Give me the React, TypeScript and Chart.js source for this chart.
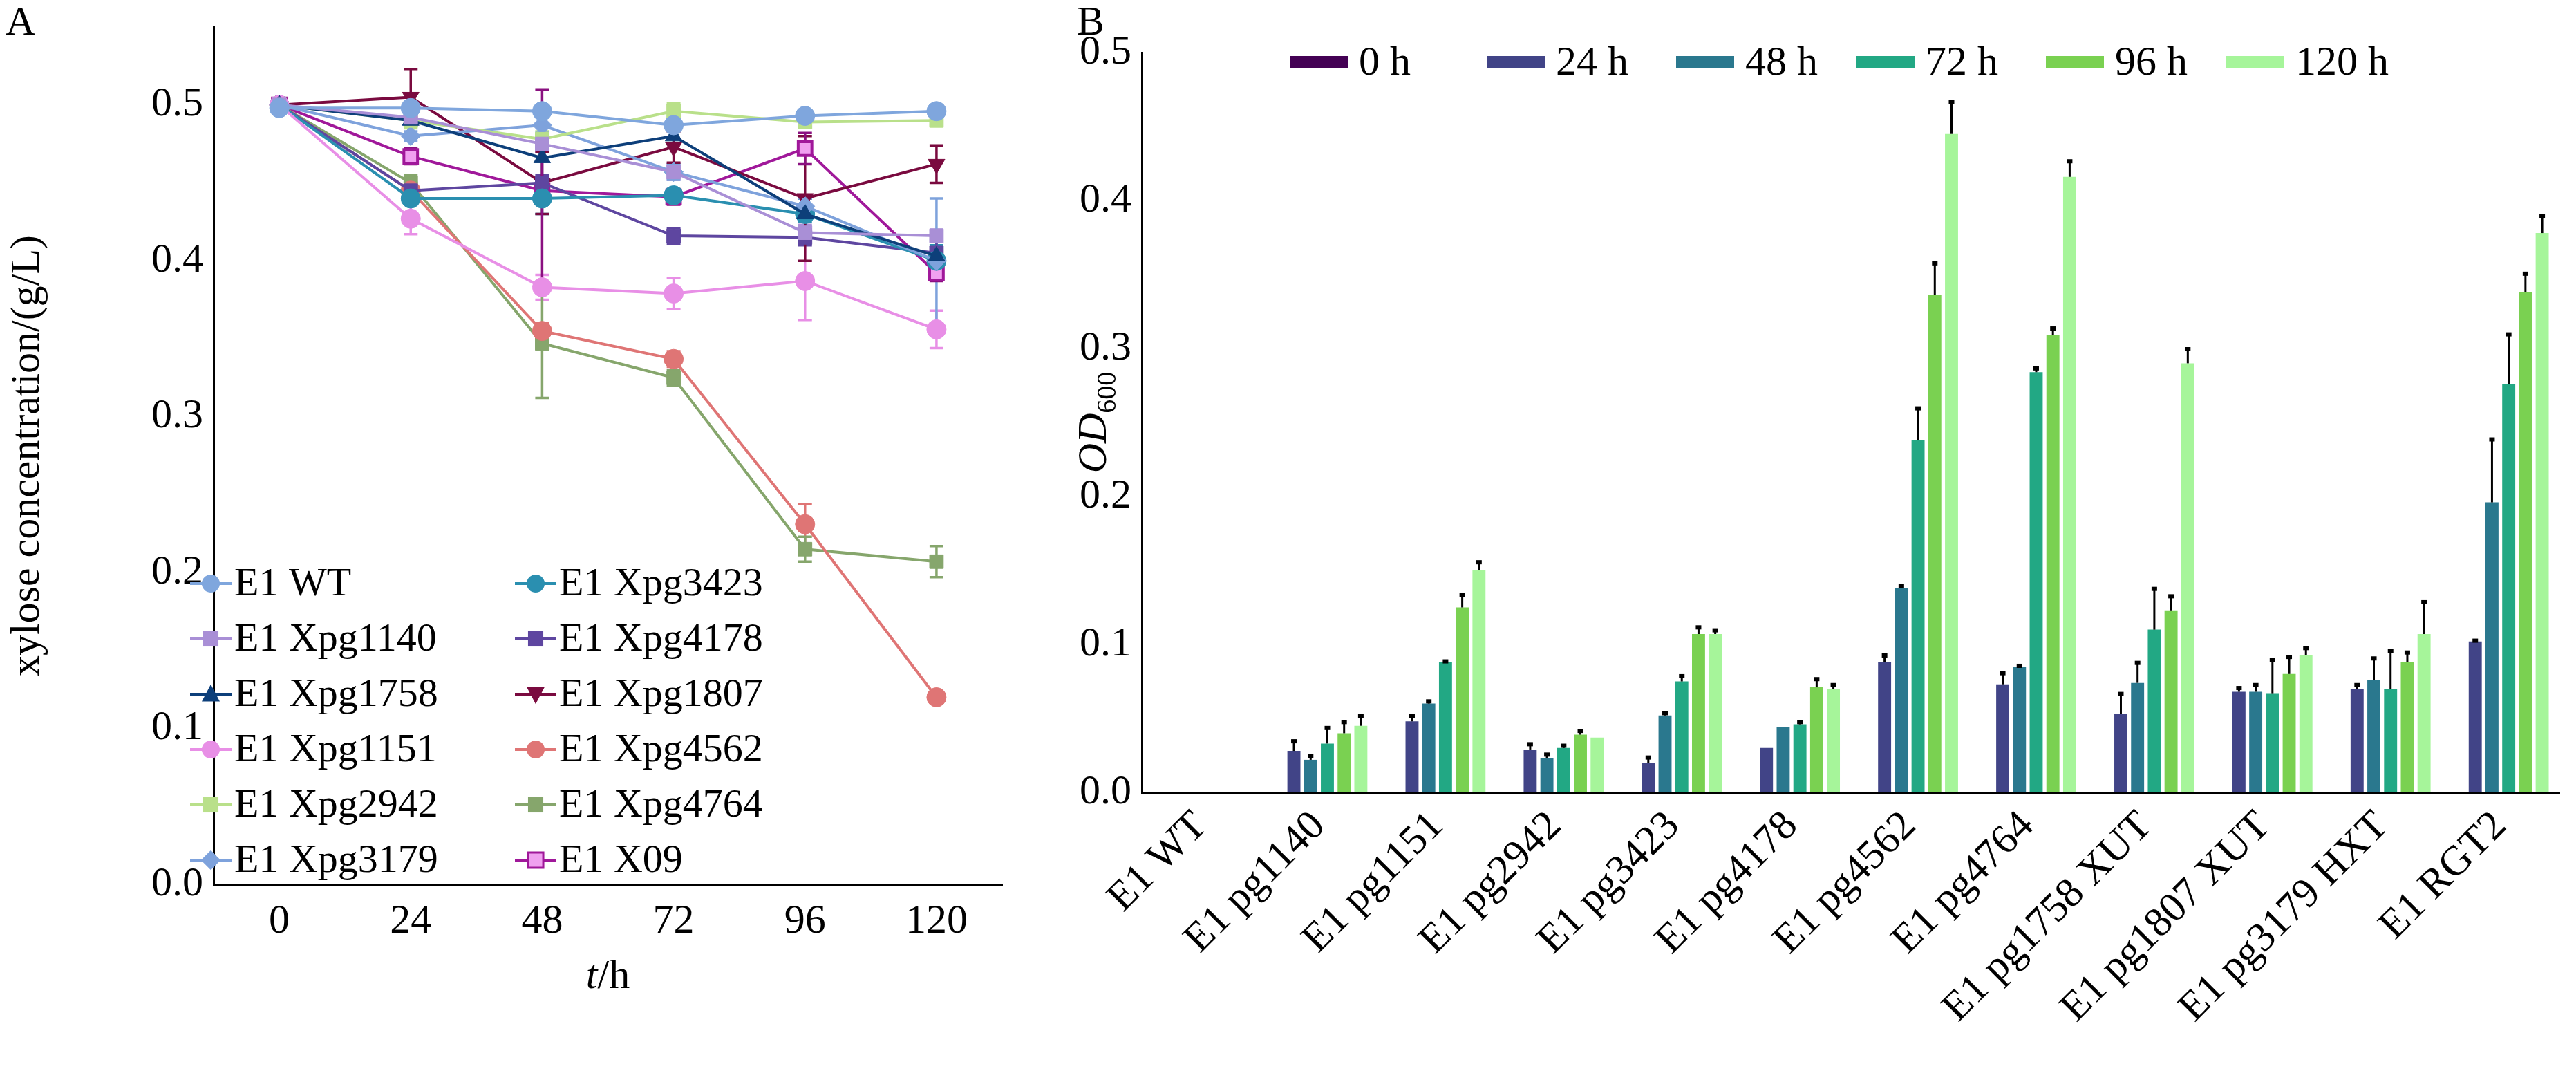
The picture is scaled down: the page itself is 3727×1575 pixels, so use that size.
import React, { useEffect, useRef } from "react";
import { Chart, registerables } from "chart.js";
Chart.register(...registerables);

const FONT = "'Liberation Serif', 'Times New Roman', serif";

// ---- Panel A data ----
const timesA = [0, 24, 48, 72, 96, 120];
const seriesNamesA = ["E1 WT", "E1 Xpg1140", "E1 Xpg1758", "E1 Xpg1151", "E1 Xpg2942", "E1 Xpg3179", "E1 Xpg3423", "E1 Xpg4178", "E1 Xpg1807", "E1 Xpg4562", "E1 Xpg4764", "E1 X09"];
const wt = [0.498, 0.498, 0.496, 0.487, 0.493, 0.496];
const x1140 = [0.5, 0.492, 0.475, 0.457, 0.418, 0.416];
const x1758 = [0.5, 0.49, 0.466, 0.48, 0.43, 0.403];
const x1151 = [0.5, 0.427, 0.383, 0.379, 0.387, 0.356];
const x2942 = [0.5, 0.49, 0.478, 0.496, 0.489, 0.49];
const x3179 = [0.5, 0.48, 0.487, 0.457, 0.435, 0.4];
const x3423 = [0.5, 0.44, 0.44, 0.442, 0.43, 0.4];
const x4178 = [0.5, 0.445, 0.45, 0.416, 0.415, 0.405];
const x1807 = [0.5, 0.505, 0.45, 0.473, 0.44, 0.462];
const x4562 = [0.5, 0.445, 0.355, 0.337, 0.231, 0.12];
const x4764 = [0.5, 0.45, 0.347, 0.325, 0.215, 0.207];
const x09 = [0.5, 0.467, 0.445, 0.441, 0.472, 0.392];
const errA = [
  [0, 0, 0.003, 0.003, 0.003, 0.002],
  [0, 0.003, 0.005, 0.005, 0.005, 0.004],
  [0, 0.01, 0.015, 0.005, 0.01, 0.01],
  [0, 0.01, 0.008, 0.01, 0.025, 0.012],
  [0, 0.005, 0.005, 0.005, 0.003, 0.003],
  [0, 0.003, 0.005, 0.005, 0.005, 0.04],
  [0, 0.004, 0.01, 0.004, 0.005, 0.01],
  [0, 0.005, 0.005, 0.005, 0.005, 0.01],
  [0, 0.018, 0.02, 0.01, 0.04, 0.012],
  [0, 0.005, 0.005, 0.005, 0.013, 0.002],
  [0, 0.005, 0.035, 0.005, 0.008, 0.01],
  [0, 0.005, 0.065, 0.005, 0.01, 0.005],
];
const colorsA = ["#7fa6dd", "#a98fd6", "#0d3f7a", "#e88fe6", "#b9e08a", "#7ea2dc", "#2a8fb0", "#5e46a0", "#7a0a3f", "#df7575", "#86a66c", "#a0189a"];
const stylesA = ["circle", "rect", "triangle", "circle", "rect", "rectRot", "circle", "rect", "triangle", "circle", "rect", "rect"];
const rotA = [0, 0, 0, 0, 0, 0, 0, 0, 180, 0, 0, 0];
const valuesA = [wt, x1140, x1758, x1151, x2942, x3179, x3423, x4178, x1807, x4562, x4764, x09];
const legendOrderA = [0, 1, 2, 3, 4, 5, 6, 7, 8, 9, 10, 11];

// ---- Panel B data ----
const categoriesB = ["E1 WT", "E1 pg1140", "E1 pg1151", "E1 pg2942", "E1 pg3423", "E1 pg4178", "E1 pg4562", "E1 pg4764", "E1 pg1758 XUT", "E1 pg1807 XUT", "E1 pg3179 HXT", "E1 RGT2"];
const seriesNamesB = ["0 h", "24 h", "48 h", "72 h", "96 h", "120 h"];
const h0 = [0, 0, 0, 0, 0, 0, 0, 0, 0, 0, 0, 0];
const h24 = [0, 0.028, 0.048, 0.029, 0.02, 0.03, 0.088, 0.073, 0.053, 0.068, 0.07, 0.102];
const h48 = [0, 0.022, 0.06, 0.023, 0.052, 0.044, 0.138, 0.085, 0.074, 0.068, 0.076, 0.196];
const h72 = [0, 0.033, 0.088, 0.03, 0.075, 0.046, 0.238, 0.284, 0.11, 0.067, 0.07, 0.276];
const h96 = [0, 0.04, 0.125, 0.039, 0.107, 0.071, 0.336, 0.309, 0.123, 0.08, 0.088, 0.338];
const h120 = [0, 0.045, 0.15, 0.037, 0.107, 0.07, 0.445, 0.416, 0.29, 0.093, 0.107, 0.378];
const e24 = [0, 0.007, 0.004, 0.004, 0.004, 0, 0.005, 0.008, 0.014, 0.003, 0.003, 0.001];
const e48 = [0, 0.003, 0.002, 0.003, 0.002, 0, 0.002, 0.001, 0.014, 0.005, 0.015, 0.043];
const e72 = [0, 0.011, 0.001, 0.002, 0.004, 0.002, 0.022, 0.003, 0.028, 0.023, 0.026, 0.034];
const e96 = [0, 0.008, 0.009, 0.003, 0.005, 0.006, 0.022, 0.005, 0.01, 0.012, 0.007, 0.013];
const e120 = [0, 0.007, 0.006, 0, 0.003, 0.003, 0.022, 0.011, 0.01, 0.005, 0.022, 0.012];
const valuesB = [h0, h24, h48, h72, h96, h120];
const errB = [h0, e24, e48, e72, e96, e120];
const colorsB = ["#440154", "#414487", "#2a788e", "#22a884", "#7ad151", "#a6f59a"];

function drawMarker(ctx: CanvasRenderingContext2D, style: string, rot: number, x: number, y: number, r: number, fill: string, stroke: string) {
  ctx.save();
  ctx.fillStyle = fill;
  ctx.strokeStyle = stroke;
  ctx.lineWidth = 3;
  ctx.translate(x, y);
  ctx.rotate((rot * Math.PI) / 180);
  ctx.beginPath();
  if (style === "circle") ctx.arc(0, 0, r, 0, Math.PI * 2);
  else if (style === "rect") ctx.rect(-r * 0.85, -r * 0.85, r * 1.7, r * 1.7);
  else if (style === "rectRot") { ctx.moveTo(0, -r * 1.1); ctx.lineTo(r * 1.1, 0); ctx.lineTo(0, r * 1.1); ctx.lineTo(-r * 1.1, 0); ctx.closePath(); }
  else if (style === "triangle") { ctx.moveTo(0, -r * 1.1); ctx.lineTo(r, r * 0.8); ctx.lineTo(-r, r * 0.8); ctx.closePath(); }
  ctx.fill();
  if (stroke !== fill) ctx.stroke();
  ctx.restore();
}

function LeftChart() {
  const ref = useRef<HTMLCanvasElement>(null);
  useEffect(() => {
    const plugin = {
      id: "extraA",
      beforeDatasetsDraw(chart: any) {
        const ctx = chart.ctx;
        const xs = chart.scales.x, ys = chart.scales.y;
        valuesA.forEach((vals, si) => {
          ctx.save();
          ctx.strokeStyle = si === 11 ? "#8a1080" : colorsA[si];
          ctx.lineWidth = 3.5;
          vals.forEach((v, i) => {
            const e = errA[si][i];
            if (!e) return;
            const px = xs.getPixelForValue(timesA[i]);
            const y1 = ys.getPixelForValue(v + e), y2 = ys.getPixelForValue(v - e);
            ctx.beginPath();
            ctx.moveTo(px, y1); ctx.lineTo(px, y2);
            ctx.moveTo(px - 10, y1); ctx.lineTo(px + 10, y1);
            ctx.moveTo(px - 10, y2); ctx.lineTo(px + 10, y2);
            ctx.stroke();
          });
          ctx.restore();
        });
      },
      afterDraw(chart: any) {
        const ctx = chart.ctx;
        const ca = chart.chartArea;
        ctx.save();
        ctx.fillStyle = "#000";
        ctx.font = `60px ${FONT}`;
        ctx.textBaseline = "top";
        ctx.fillText("A", 8, 4);
        const cx = (ca.left + ca.right) / 2;
        const ty = ca.bottom + 150;
        ctx.textBaseline = "alphabetic";
        ctx.font = `italic 60px ${FONT}`;
        const wT = ctx.measureText("t").width;
        ctx.font = `60px ${FONT}`;
        const wH = ctx.measureText("/h").width;
        const sx = cx - (wT + wH) / 2;
        ctx.font = `italic 60px ${FONT}`;
        ctx.fillText("t", sx, ty);
        ctx.font = `60px ${FONT}`;
        ctx.fillText("/h", sx + wT, ty);
        // legend
        const col1 = 275, col2 = 745;
        const top = 844, step = 80;
        ctx.font = `58px ${FONT}`;
        ctx.textBaseline = "middle";
        legendOrderA.forEach((si, k) => {
          const col = k < 6 ? col1 : col2;
          const row = k % 6;
          const y = top + row * step;
          const c = colorsA[si];
          ctx.strokeStyle = c; ctx.lineWidth = 4;
          ctx.beginPath(); ctx.moveTo(col, y); ctx.lineTo(col + 60, y); ctx.stroke();
          drawMarker(ctx, stylesA[si], rotA[si], col + 30, y, 13, si === 11 ? "#f0a0f0" : c, c);
          ctx.fillStyle = "#000";
          ctx.fillText(seriesNamesA[si], col + 64, y + 2);
        });
        ctx.restore();
      },
    };
    const ch = new Chart(ref.current!, {
      type: "line",
      data: {
        datasets: valuesA.map((vals, si) => ({
          label: seriesNamesA[si],
          data: vals.map((v, i) => ({ x: timesA[i], y: v })),
          borderColor: colorsA[si],
          backgroundColor: si === 11 ? "#f0a0f0" : colorsA[si],
          pointBackgroundColor: si === 11 ? "#f0a0f0" : colorsA[si],
          pointBorderColor: colorsA[si],
          pointBorderWidth: si === 11 ? 4 : 1,
          borderWidth: 4,
          pointStyle: stylesA[si] as any,
          pointRotation: rotA[si],
          pointRadius: 14,
        })),
      },
      options: {
        animation: false,
        responsive: false,
        layout: { padding: { left: 0, top: 36, right: 30, bottom: 0 } },
        plugins: { legend: { display: false }, tooltip: { enabled: false } },
        scales: {
          x: {
            type: "linear", min: -12, max: 132,
            grid: { display: false, drawTicks: true, tickLength: 12, tickColor: "#000" },
            border: { color: "#000", width: 3 },
            afterBuildTicks: (s: any) => { s.ticks = timesA.map((v) => ({ value: v })); },
            afterFit: (s: any) => { s.height = 296; },
            ticks: { color: "#000", font: { family: FONT, size: 60 }, padding: 6 },
          },
          y: {
            min: 0, max: 0.55,
            grid: { display: false, tickLength: 12, tickColor: "#000" },
            border: { color: "#000", width: 3 },
            afterBuildTicks: (s: any) => { s.ticks = [0, 0.1, 0.2, 0.3, 0.4, 0.5].map((v) => ({ value: v })); },
            afterFit: (s: any) => { s.width = 309; },
            ticks: { color: "#000", font: { family: FONT, size: 60 }, callback: (v: any) => Number(v).toFixed(1) },
            title: { display: true, text: "xylose concentration/(g/L)", color: "#000", font: { family: FONT, size: 60 }, padding: { bottom: 20 } },
          },
        },
      },
      plugins: [plugin],
    } as any);
    return () => ch.destroy();
  }, []);
  return <canvas ref={ref} width={1480} height={1575} style={{ position: "absolute", left: 0, top: 0 }} />;
}

function RightChart() {
  const ref = useRef<HTMLCanvasElement>(null);
  useEffect(() => {
    const plugin = {
      id: "extraB",
      afterDatasetsDraw(chart: any) {
        const ctx = chart.ctx;
        const ys = chart.scales.y;
        ctx.save();
        ctx.strokeStyle = "#000"; ctx.fillStyle = "#000"; ctx.lineWidth = 3;
        valuesB.forEach((vals, si) => {
          const meta = chart.getDatasetMeta(si);
          vals.forEach((v, i) => {
            const e = errB[si][i];
            if (!e) return;
            const bar = meta.data[i];
            const y1 = ys.getPixelForValue(v), y2 = ys.getPixelForValue(v + e);
            ctx.beginPath(); ctx.moveTo(bar.x, y1); ctx.lineTo(bar.x, y2); ctx.stroke();
            ctx.fillRect(bar.x - 4, y2 - 2, 8, 6);
          });
        });
        ctx.restore();
      },
      afterDraw(chart: any) {
        const ctx = chart.ctx;
        const ca = chart.chartArea;
        ctx.save();
        ctx.fillStyle = "#000";
        ctx.font = `60px ${FONT}`;
        ctx.textBaseline = "top";
        ctx.fillText("B", 78, 4);
        ctx.translate(ca.left - 52, (ca.top + ca.bottom) / 2);
        ctx.rotate(-Math.PI / 2);
        ctx.textBaseline = "alphabetic";
        ctx.font = `italic 60px ${FONT}`;
        const w1 = ctx.measureText("OD").width;
        ctx.font = `40px ${FONT}`;
        const w2 = ctx.measureText("600").width;
        const sx = -(w1 + w2) / 2;
        ctx.font = `italic 60px ${FONT}`;
        ctx.fillText("OD", sx, 0);
        ctx.font = `40px ${FONT}`;
        ctx.fillText("600", sx + w1, 14);
        ctx.restore();
        ctx.save();
        ctx.font = `60px ${FONT}`;
        ctx.textBaseline = "middle";
        const xs0 = [ca.left + 214, ca.left + 499, ca.left + 773, ca.left + 1034, ca.left + 1308, ca.left + 1569];
        const y = 90;
        seriesNamesB.forEach((n, si) => {
          ctx.fillStyle = colorsB[si];
          ctx.fillRect(xs0[si], y - 9, 84, 18);
          ctx.fillStyle = "#000";
          ctx.fillText(n, xs0[si] + 100, y + 2);
        });
        ctx.restore();
      },
    };
    const ch = new Chart(ref.current!, {
      type: "bar",
      data: {
        labels: categoriesB,
        datasets: valuesB.map((vals, si) => ({
          label: seriesNamesB[si],
          data: vals,
          backgroundColor: colorsB[si],
          borderWidth: 0,
        })),
      },
      options: {
        animation: false,
        responsive: false,
        layout: { padding: { left: 0, top: 76, right: 24, bottom: 0 } },
        datasets: { bar: { categoryPercentage: 0.85, barPercentage: 0.78 } },
        plugins: { legend: { display: false }, tooltip: { enabled: false } },
        scales: {
          x: {
            grid: { display: false, tickLength: 10, tickColor: "#000" },
            border: { color: "#000", width: 3 },
            afterFit: (s: any) => { s.height = 429; },
            ticks: { color: "#000", font: { family: FONT, size: 60 }, maxRotation: 45, minRotation: 45, padding: 4, autoSkip: false },
          },
          y: {
            min: 0, max: 0.5,
            grid: { display: false, tickLength: 12, tickColor: "#000" },
            border: { color: "#000", width: 3 },
            afterFit: (s: any) => { s.width = 172; },
            ticks: { color: "#000", font: { family: FONT, size: 60 }, stepSize: 0.1, callback: (v: any) => Number(v).toFixed(1) },
          },
        },
      },
      plugins: [plugin],
    } as any);
    return () => ch.destroy();
  }, []);
  return <canvas ref={ref} width={2247} height={1575} style={{ position: "absolute", left: 1480, top: 0 }} />;
}

export default function App() {
  return (
    <div style={{ position: "absolute", left: 0, top: 0, width: 3727, height: 1575, background: "#fff" }}>
      <LeftChart />
      <RightChart />
    </div>
  );
}
